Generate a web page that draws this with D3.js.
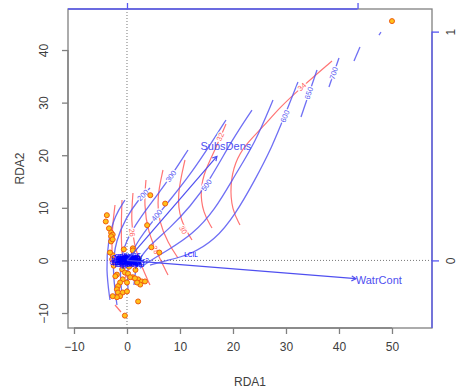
<!DOCTYPE html>
<html><head><meta charset="utf-8">
<script src="https://cdn.jsdelivr.net/npm/d3@7"></script>
<style>body{margin:0;background:#fff}svg{display:block;font-family:"Liberation Sans",Arial,sans-serif}</style>
</head><body><svg id="c" width="459" height="390"></svg>
<script>
// ---- data ----
const xTicks=[-10,0,10,20,30,40,50];
const yTicks=[-10,0,10,20,30,40];
const biTicks=[0,1];
const xLimits=[-11.13,57.55];
const yLimits=[-12.85,47.8];
const arrowMul=43.5;

const siteX=[50.0,4.4,7.2,3.8,4.6,6.1,1.1,-0.6,-3.8,-4.0,-3.4,-3.0,-2.7,-3.0,-3.0,-2.7,-2.7,-2.8,2.1,-2.5,-0.9,-1.9,-0.4,0.2,1.1,2.1,2.8,3.4,2.5,1.9,0.6,-0.8,-1.3,0.0,-1.7,-1.9,-1.7,-0.8,0.0,-1.3,-1.9,2.1,-0.4,-3.2,1.1,-2.7,1.5,0.8,-1.1,-2.2,0.4,1.6,-0.2];
const siteY=[45.5,12.4,10.8,6.7,2.5,1.5,2.3,2.1,8.6,7.4,6.1,5.3,4.9,4.6,3.6,4.0,1.0,0.2,0.4,-1.0,-1.7,-2.7,-2.3,-2.5,-3.2,-3.6,-4.0,-4.0,-4.6,-4.2,-3.2,-3.6,-4.2,-4.2,-4.9,-5.5,-6.1,-6.1,-5.9,-6.8,-7.0,-7.8,-10.5,1.5,1.9,-6.8,-3.4,-0.8,-0.5,-3.0,-1.2,-1.8,0.6];

const speciesNames=["Brachy","PHTH","HPAV","RARD","SSTR","Protopl","MEGR","MPRO","TVIE","HMIN","HMIN2","NPRA","TVEL","ONOV","SUCT","LCIL","Oribatl1","Ceratoz1","PWIL","Galumna1","Stgncrs2","HRUF","Trhypch1","PPEL","NCOR","SLAT","FSET","Lepidzts","Eupelops","Miniglmn","LRUG","PLAG2","Ceratoz3","Oppiminu","Trimalc2"];
const speciesX=[0.5,0.1,0.8,-0.2,0.1,-0.3,0.3,0.0,0.4,1.0,0.6,-0.4,1.4,1.1,0.9,12.1,0.2,-0.5,0.3,-0.1,-0.6,0.0,-0.4,0.1,0.7,-0.2,-0.7,0.4,0.2,0.0,1.6,0.0,-0.8,0.6,1.8];
const speciesY=[0.2,-0.3,0.1,0.4,0.1,-0.2,0.5,0.0,-0.4,-0.2,-0.6,0.2,0.3,0.6,0.8,1.1,0.7,0.5,-0.1,-0.5,-0.1,0.3,-0.7,-0.2,0.4,0.1,0.7,0.1,-0.8,0.6,-0.4,-0.3,-0.4,-0.9,0.0];

const biplotNames=["WatrCont","SubsDens"];
const biplotX=[0.993,0.39];
const biplotY=[-0.08,0.455];

// ordisurf contour lines (RDA1,RDA2 pairs)
const blueContours=[
 [[-3.21,-7.53],[-3.96,-1.83],[-3.58,3.88],[-2.26,8.63],[-0.38,11.48]],
 [[-1.89,-8.48],[-2.83,-1.44],[-2.08,3.88],[-0.19,8.06],[2.08,11.48],[4.34,13.76]],
 [[-0.94,-6.58],[-1.51,-0.87],[-0.19,3.88],[2.45,8.06],[5.28,11.86],[8.49,16.24],[11.51,20.99]],
 [[0.19,-5.63],[0.0,-0.3],[1.89,3.5],[4.72,7.3],[8.11,11.48],[11.89,16.24],[16.04,22.51],[18.68,26.7]],
 [[1.32,-4.68],[1.70,-0.3],[4.34,2.93],[8.11,6.16],[11.89,10.15],[15.66,15.29],[19.81,22.89],[23.58,28.59]],
 [[2.45,-1.5],[3.96,-0.3],[7.74,1.98],[12.26,4.83],[16.6,9.58],[20.38,16.24],[24.15,22.32],[27.55,30.49]],
 [[4.34,-0.9],[7.17,-0.1],[11.89,1.03],[16.6,3.88],[20.38,8.63],[24.15,15.29],[27.36,21.56],[29.81,27.64],[32.26,33.92]],
 [[32.83,27.26],[35.85,36.2]],
 [[38.11,32.97],[40.0,38.48]],
 [[42.83,37.91],[43.96,40.57]],
 [[47.55,42.85],[47.92,43.42]]
];
const blueLabelText=["200","300","400","500","600","650","700"];
const blueLabelLine=[1,2,3,4,6,7,8];
const blueLabelX=[3.0,8.3,5.6,15.0,29.8,34.3,39.0];
const blueLabelY=[12.4,16.0,8.6,14.3,27.4,31.8,35.6];

const redContours=[
 [[-2.26,10.53],[-2.83,5.78],[-2.83,1.03]],
 [[-0.94,11.48],[-1.13,5.78],[-0.94,0.08],[-0.19,-3.35]],
 [[1.13,12.81],[0.75,7.68],[1.32,2.93],[2.64,-0.87],[4.34,-4.68]],
 [[3.58,15.29],[3.21,10.53],[3.96,5.4],[5.85,1.03],[7.74,-2.78]],
 [[6.79,17.19],[5.66,12.05],[6.04,7.3],[7.74,3.31],[9.62,0.46]],
 [[10.94,19.09],[9.43,12.43],[10.0,7.68],[12.26,3.88]],
 [[18.68,25.93],[16.79,21.37],[14.72,17.19],[13.77,13.38],[14.34,9.01],[16.04,6.16]],
 [[38.68,37.91],[33.21,33.16],[28.87,29.16],[25.66,25.36],[22.26,21.94],[20.38,18.71],[19.43,14.33],[19.81,9.58],[21.32,6.73]],
 [[-2.26,-8.48],[-1.13,-9.81]]
];
const redLabelText=["26","28","30","32","34"];
const redLabelLine=[2,3,5,6,7];
const redLabelX=[0.95,5.4,10.6,17.6,33.0];
const redLabelY=[5.3,2.0,5.8,23.5,33.0];

// ---- drawing ----
const svg=d3.select("#c");
const plot={l:68,r:432,t:9,b:328};
const x=d3.scaleLinear().domain(xLimits).range([plot.l,plot.r]);
const y=d3.scaleLinear().domain(yLimits).range([plot.b,plot.t]);
const x2=d3.scaleLinear().domain(xLimits.map(v=>v/arrowMul)).range([plot.l,plot.r]);
const y2=d3.scaleLinear().domain(yLimits.map(v=>v/arrowMul)).range([plot.b,plot.t]);

const BLUE="#5656f2", RED="#ff5c5c", AXC="#808080", TXT="#404040";

svg.append("clipPath").attr("id","pc").append("rect")
  .attr("x",plot.l).attr("y",plot.t).attr("width",plot.r-plot.l).attr("height",plot.b-plot.t);
const g=svg.append("g").attr("clip-path","url(#pc)");

// zero lines
g.append("line").attr("x1",x(0)).attr("x2",x(0)).attr("y1",plot.t).attr("y2",plot.b)
 .attr("stroke","#777").attr("stroke-dasharray","1,2");
g.append("line").attr("y1",y(0)).attr("y2",y(0)).attr("x1",plot.l).attr("x2",plot.r)
 .attr("stroke","#777").attr("stroke-dasharray","1,2");

const line=d3.line().x(d=>x(d[0])).y(d=>y(d[1])).curve(d3.curveBasis);

function angleAt(pts,lx,ly){
  let best=1e9,ang=0;
  for(let i=0;i<pts.length-1;i++){
    const ax=x(pts[i][0]),ay=y(pts[i][1]),bx=x(pts[i+1][0]),by=y(pts[i+1][1]);
    const px=x(lx),py=y(ly);
    const dx=bx-ax,dy=by-ay,L=dx*dx+dy*dy;
    let t=((px-ax)*dx+(py-ay)*dy)/L;t=Math.max(0,Math.min(1,t));
    const d=Math.hypot(ax+t*dx-px,ay+t*dy-py);
    if(d<best){best=d;ang=Math.atan2(dy,dx)*180/Math.PI;}
  }
  if(ang>90)ang-=180; if(ang<-90)ang+=180;
  return ang;
}

g.selectAll("path.red").data(redContours).join("path").attr("class","red")
 .attr("d",line).attr("fill","none").attr("stroke",RED).attr("stroke-width",1.2).attr("opacity",0.85);
g.selectAll("path.blue").data(blueContours).join("path").attr("class","blue")
 .attr("d",line).attr("fill","none").attr("stroke",BLUE).attr("stroke-width",1.3).attr("opacity",0.85);

function contourLabel(t,lines,li,lx,ly,col){
  const a=angleAt(lines[li],lx,ly);
  g.append("text").attr("transform",`translate(${x(lx)},${y(ly)}) rotate(${a})`)
   .attr("text-anchor","middle").attr("dy","0.35em").attr("font-size",7.5).attr("fill",col)
   .attr("stroke","#fff").attr("stroke-width",2.5).attr("paint-order","stroke").text(t);
}
redLabelText.forEach((t,i)=>contourLabel(t,redContours,redLabelLine[i],redLabelX[i],redLabelY[i],RED));
blueLabelText.forEach((t,i)=>contourLabel(t,blueContours,blueLabelLine[i],blueLabelX[i],blueLabelY[i],BLUE));

// sites
g.selectAll("circle.site").data(siteX.map((v,i)=>[v,siteY[i]])).join("circle").attr("class","site")
 .attr("cx",d=>x(d[0])).attr("cy",d=>y(d[1])).attr("r",2.5)
 .attr("fill","#ffc21a").attr("stroke","#ee5a10").attr("stroke-width",1);

// species
g.selectAll("text.sp").data(speciesNames).join("text").attr("class","sp")
 .attr("x",(d,i)=>x(speciesX[i])).attr("y",(d,i)=>y(speciesY[i])).attr("dy","0.35em")
 .attr("text-anchor","middle").attr("font-size",6.5).attr("fill","#0000ff").text(d=>d);

// biplot arrows
const AB="#4f4ff0";
biplotNames.forEach((n,i)=>{
  const x0=x2(0),y0=y2(0),x1=x2(biplotX[i]),y1=y2(biplotY[i]);
  g.append("line").attr("x1",x0).attr("y1",y0).attr("x2",x1).attr("y2",y1).attr("stroke",AB).attr("stroke-width",1.2);
  const a=Math.atan2(y1-y0,x1-x0),L=5,s=Math.PI/6;
  g.append("path").attr("d",`M${x1-L*Math.cos(a-s)},${y1-L*Math.sin(a-s)}L${x1},${y1}L${x1-L*Math.cos(a+s)},${y1-L*Math.sin(a+s)}`)
   .attr("fill","none").attr("stroke",AB).attr("stroke-width",1.2);
  g.append("text").attr("x",x2(biplotX[i]*1.1)).attr("y",y2(biplotY[i]*1.1)).attr("dy","0.35em")
   .attr("text-anchor","middle").attr("font-size",11).attr("fill",AB).text(n);
});

// box
svg.append("rect").attr("x",plot.l).attr("y",plot.t).attr("width",plot.r-plot.l).attr("height",plot.b-plot.t)
 .attr("fill","none").attr("stroke",AXC).attr("stroke-width",1.3);

// primary axes
const ax=svg.append("g").attr("transform",`translate(0,${plot.b})`).call(d3.axisBottom(x).tickValues(xTicks).tickSize(6).tickPadding(8));
ax.select(".domain").attr("d",`M${x(xTicks[0])},0H${x(xTicks[xTicks.length-1])}`).attr("stroke",AXC).attr("stroke-width",1.3);
ax.selectAll(".tick line").attr("stroke",AXC).attr("stroke-width",1.3);
ax.selectAll("text").attr("font-size",12).attr("fill",TXT).attr("font-family","Liberation Sans, Arial, sans-serif");

const ay=svg.append("g").attr("transform",`translate(${plot.l},0)`).call(d3.axisLeft(y).tickValues(yTicks).tickSize(6).tickPadding(8));
ay.select(".domain").attr("d",`M0,${y(yTicks[0])}V${y(yTicks[yTicks.length-1])}`).attr("stroke",AXC).attr("stroke-width",1.3);
ay.selectAll(".tick line").attr("stroke",AXC).attr("stroke-width",1.3);
ay.selectAll("text").attr("font-size",12).attr("fill",TXT).attr("font-family","Liberation Sans, Arial, sans-serif")
  .attr("transform","rotate(-90)").attr("text-anchor","middle").attr("x",0).attr("y",-20).attr("dy","0");

// secondary (biplot) axes — top labels lie above the visible area in the reference
const at=svg.append("g").attr("transform",`translate(0,${plot.t})`).call(d3.axisTop(x2).tickValues(biTicks).tickSize(6).tickFormat(""));
at.select(".domain").attr("d",`M${plot.l},0H${x2(biTicks[biTicks.length-1])}`).attr("stroke",BLUE).attr("stroke-width",1.3);
at.selectAll(".tick line").attr("stroke",BLUE).attr("stroke-width",1.3);

const ar=svg.append("g").attr("transform",`translate(${plot.r},0)`).call(d3.axisRight(y2).tickValues(biTicks).tickSize(7).tickFormat(d3.format("d")));
ar.select(".domain").attr("d",`M0,${y2(biTicks[biTicks.length-1])}V${plot.b}`).attr("stroke",BLUE).attr("stroke-width",1.3);
ar.selectAll(".tick line").attr("stroke",BLUE).attr("stroke-width",1.3);
ar.selectAll("text").attr("font-size",12).attr("fill",TXT).attr("font-family","Liberation Sans, Arial, sans-serif")
  .attr("transform","rotate(-90)").attr("text-anchor","middle").attr("x",0).attr("y",23).attr("dy","0");

// titles
svg.append("text").attr("x",(plot.l+plot.r)/2).attr("y",386).attr("text-anchor","middle")
 .attr("font-size",12).attr("fill",TXT).text("RDA1");
svg.append("text").attr("transform",`translate(24,${(plot.t+plot.b)/2}) rotate(-90)`).attr("text-anchor","middle")
 .attr("font-size",12).attr("fill",TXT).text("RDA2");
</script></body></html>
